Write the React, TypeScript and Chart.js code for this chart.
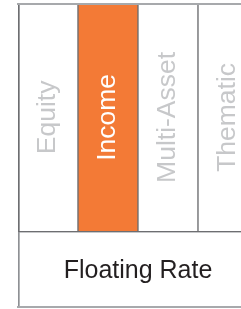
import { useEffect, useRef } from 'react';
import { Chart, registerables } from 'chart.js';

Chart.register(...registerables);

const categories = ['Equity', 'Income', 'Multi-Asset', 'Thematic'];
const selectedCategory = 'Income';
const columnRange = [1, 4];
const baseRowRange = [0, 1];
const baseRowLabel = 'Floating Rate';

const columnData = categories.map(() => columnRange);
const baseData = categories.map(() => baseRowRange);

const FAMILY = '"Liberation Sans", Arial, sans-serif';

const labelPlugin = {
  id: 'boxLabels',
  afterDatasetsDraw(chart: any) {
    const ctx = chart.ctx;
    const { left, right, top, bottom } = chart.chartArea;
    ctx.save();
    ctx.fillStyle = '#a7a9ac';
    ctx.fillRect(left - 1, top, right - left + 1, 2);
    ctx.fillRect(left - 1, bottom - 2, right - left + 1, 2);

    ctx.font = '26.5px ' + FAMILY;
    ctx.textAlign = 'center';
    ctx.textBaseline = 'middle';
    const meta = chart.getDatasetMeta(0);
    meta.data.forEach((bar: any, i: number) => {
      const p = bar.getProps(['x', 'y', 'base'], true);
      const cy = (p.y + p.base) / 2;
      ctx.save();
      ctx.translate(p.x, cy);
      ctx.rotate(-Math.PI / 2);
      ctx.fillStyle = categories[i] === selectedCategory ? '#ffffff' : '#c7c8ca';
      ctx.fillText(categories[i], 0, 0);
      ctx.restore();
    });
    const ys = chart.scales.y;
    const cy = (ys.getPixelForValue(baseRowRange[0]) + ys.getPixelForValue(baseRowRange[1])) / 2;
    ctx.font = '25px ' + FAMILY;
    ctx.fillStyle = '#231f20';
    ctx.fillText(baseRowLabel, (left + right) / 2, cy + 1);
    ctx.restore();
  },
};

export default function App() {
  const ref = useRef<HTMLCanvasElement>(null);
  useEffect(() => {
    if (!ref.current) return;
    const chart = new Chart(ref.current, {
      type: 'bar',
      data: {
        labels: categories,
        datasets: [
          {
            data: columnData as any,
            grouped: false,
            order: 1,
            barPercentage: 1,
            categoryPercentage: 1,
            backgroundColor: categories.map((c) => (c === selectedCategory ? '#f37a36' : '#ffffff')),
            borderColor: '#6d6e71',
            borderSkipped: false,
            borderWidth: categories.map((_, i) => ({ left: i === 0 ? 2 : 1, right: 1, top: 0, bottom: 1 })) as any,
          },
          {
            data: baseData as any,
            grouped: false,
            order: 2,
            barPercentage: 1,
            categoryPercentage: 1,
            backgroundColor: '#ffffff',
            borderColor: '#8e9094',
            borderSkipped: false,
            borderWidth: categories.map((_, i) => ({ left: i === 0 ? 2 : 0, right: 0, top: 1, bottom: 0 })) as any,
          },
        ],
      },
      options: {
        animation: false,
        responsive: true,
        maintainAspectRatio: false,
        layout: { padding: { left: 18, top: 3, right: 17, bottom: 1 } },
        plugins: { legend: { display: false }, tooltip: { enabled: false } },
        scales: {
          x: { display: false },
          y: { display: false, min: 0, max: 4 },
        },
      },
      plugins: [labelPlugin],
    });
    return () => chart.destroy();
  }, []);
  return (
    <div style={{ position: 'fixed', left: 0, top: 0, width: 241, height: 309, overflow: 'hidden', background: '#fff' }}>
      <div style={{ position: 'relative', width: 275, height: 309 }}>
        <canvas ref={ref} />
      </div>
    </div>
  );
}
